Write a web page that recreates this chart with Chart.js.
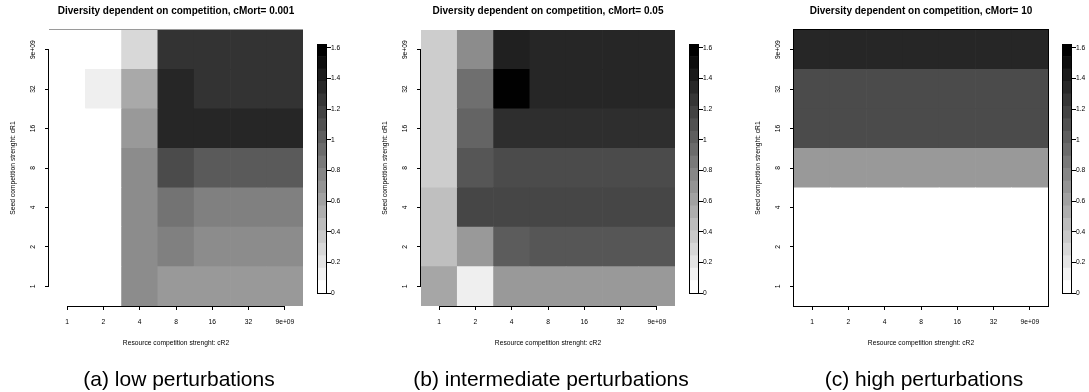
<!DOCTYPE html>
<html>
<head>
<meta charset="utf-8">
<script src="https://cdn.jsdelivr.net/npm/chart.js@4.4.1/dist/chart.umd.min.js"></script>
<style>
html,body{margin:0;padding:0;background:#fff;overflow:hidden;width:1089px;height:392px;}
canvas{position:absolute;top:0;}
</style>
</head>
<body>
<canvas id="mainA" style="left:0px" width="358" height="392"></canvas>
<canvas id="cbA" style="left:300px" width="57" height="392"></canvas>
<canvas id="mainB" style="left:372px" width="358" height="392"></canvas>
<canvas id="cbB" style="left:672px" width="57" height="392"></canvas>
<canvas id="mainC" style="left:745px" width="358" height="392"></canvas>
<canvas id="cbC" style="left:1045px" width="57" height="392"></canvas>
<script>
// ---------- data ----------
const cR2Labels = ['1', '2', '4', '8', '16', '32', '9e+09'];   // x categories
const cR1Labels = ['1', '2', '4', '8', '16', '32', '9e+09'];   // y categories (bottom -> top)
const panelTitles = [
  'Diversity dependent on competition, cMort= 0.001',
  'Diversity dependent on competition, cMort= 0.05',
  'Diversity dependent on competition, cMort= 10'
];
const panelCaptions = ['(a) low perturbations', '(b) intermediate perturbations', '(c) high perturbations'];

// rows: cR1 = 1 ... 9e+09 ; columns: cR2 = 1 ... 9e+09
const diversityLow = [
  [0, 0,    0.73, 0.65, 0.65, 0.65, 0.65],
  [0, 0,    0.73, 0.81, 0.73, 0.73, 0.73],
  [0, 0,    0.73, 0.89, 0.81, 0.81, 0.81],
  [0, 0,    0.73, 1.15, 1.05, 1.05, 1.05],
  [0, 0,    0.65, 1.38, 1.38, 1.38, 1.38],
  [0, 0.10, 0.55, 1.38, 1.30, 1.30, 1.30],
  [0, 0,    0.25, 1.30, 1.30, 1.30, 1.30]
];
const diversityMid = [
  [0.57, 0.10, 0.65, 0.65, 0.65, 0.65, 0.65],
  [0.41, 0.65, 1.04, 1.08, 1.08, 1.08, 1.08],
  [0.41, 1.18, 1.18, 1.18, 1.18, 1.18, 1.18],
  [0.32, 1.08, 1.15, 1.15, 1.15, 1.15, 1.15],
  [0.32, 0.99, 1.33, 1.33, 1.33, 1.33, 1.33],
  [0.32, 0.92, 1.62, 1.38, 1.38, 1.38, 1.38],
  [0.32, 0.73, 1.42, 1.38, 1.38, 1.38, 1.38]
];
const diversityHigh = [
  [0, 0, 0, 0, 0, 0, 0],
  [0, 0, 0, 0, 0, 0, 0],
  [0, 0, 0, 0, 0, 0, 0],
  [0.65, 0.65, 0.65, 0.65, 0.65, 0.65, 0.65],
  [1.15, 1.15, 1.15, 1.15, 1.15, 1.15, 1.15],
  [1.15, 1.15, 1.15, 1.15, 1.15, 1.15, 1.15],
  [1.38, 1.38, 1.38, 1.38, 1.38, 1.38, 1.38]
];
const colorbarTicks = [0, 0.2, 0.4, 0.6, 0.8, 1, 1.2, 1.4, 1.6];
const colorbarTickLabels = ['0', '0.2', '0.4', '0.6', '0.8', '1', '1.2', '1.4', '1.6'];
const zMax = 1.625;
const nBands = 20;

// ---------- helpers ----------
const FONT = "'Liberation Sans', Arial, Helvetica, sans-serif";
Chart.defaults.font.family = FONT;
Chart.defaults.color = '#000';

function grayFor(v) {
  const g = Math.round(255 * (1 - Math.min(v, zMax) / zMax));
  return 'rgb(' + g + ',' + g + ',' + g + ')';
}
function bandGray(i) {
  const g = Math.round(255 * (1 - i / (nBands - 1)));
  return 'rgb(' + g + ',' + g + ',' + g + ')';
}

const rAxes = {
  id: 'rAxes',
  afterDraw(chart, args, opts) {
    const {ctx, chartArea: a, scales: {x, y}} = chart;
    ctx.save();
    ctx.lineWidth = 1;
    if (opts.edgeTop) {
      ctx.strokeStyle = opts.edgeTop;
      ctx.beginPath();
      ctx.moveTo(a.left, Math.round(a.top) - 0.5);
      ctx.lineTo(a.right, Math.round(a.top) - 0.5);
      ctx.stroke();
    }
    ctx.strokeStyle = '#000';
    ctx.beginPath();
    const yb = Math.round(a.bottom) + 0.5;
    ctx.moveTo(x.getPixelForTick(0), yb);
    ctx.lineTo(x.getPixelForTick(x.ticks.length - 1), yb);
    const xl = Math.round(a.left) - 0.5;
    ctx.moveTo(xl, y.getPixelForTick(0));
    ctx.lineTo(xl, y.getPixelForTick(y.ticks.length - 1));
    ctx.stroke();
    if (opts.frame) {
      ctx.strokeRect(xl, Math.round(a.top) - 0.5, Math.round(a.right) + 0.5 - xl, yb - Math.round(a.top) + 0.5);
    }
    ctx.restore();
  }
};

const cbFrame = {
  id: 'cbFrame',
  afterDraw(chart) {
    const {ctx, chartArea: a} = chart;
    ctx.save();
    ctx.strokeStyle = '#000';
    ctx.lineWidth = 1;
    ctx.strokeRect(Math.round(a.left) + 0.5, Math.round(a.top) + 0.5,
                   Math.round(a.right) - Math.round(a.left) - 1, Math.round(a.bottom) - Math.round(a.top));
    ctx.restore();
  }
};

const tickFont = {size: 6.7, lineHeight: 1.2};

function heatChart(id, z, title, caption, extra) {
  return new Chart(document.getElementById(id), {
    type: 'bar',
    data: {
      labels: cR2Labels,
      datasets: cR1Labels.map((r, i) => ({
        label: 'cR1 = ' + r,
        data: cR2Labels.map(() => 1),
        backgroundColor: z[i].map(grayFor),
        borderWidth: 0,
        barPercentage: 1,
        categoryPercentage: 1
      }))
    },
    options: {
      responsive: false,
      animation: false,
      events: [],
      layout: {padding: 0},
      plugins: {
        legend: {display: false},
        tooltip: {enabled: false},
        title: {
          display: true, text: title, fullSize: false, color: '#000',
          font: {size: 10, weight: 'bold', lineHeight: 1.2},
          padding: {top: 5, bottom: 13}
        },
        subtitle: {
          display: true, position: 'bottom', text: caption, color: '#000',
          font: {size: 21, weight: 'normal', lineHeight: 1},
          padding: {top: 15.5, bottom: 1.5}
        },
        rAxes: extra
      },
      scales: {
        x: {
          stacked: true,
          offset: true,
          grid: {offset: false, drawOnChartArea: false, drawTicks: true, tickLength: 4, tickColor: '#000', tickWidth: 1},
          border: {display: false},
          ticks: {font: tickFont, padding: 7.7, color: '#000', maxRotation: 0, minRotation: 0, autoSkip: false},
          title: {display: true, text: 'Resource competition strenght: cR2', color: '#000', font: tickFont, padding: {top: 0, bottom: 7.3}},
          afterFit: s => { s.height = 48; }
        },
        y: {
          stacked: true,
          min: 0,
          max: cR1Labels.length,
          afterBuildTicks: s => { s.ticks = cR1Labels.map((_, i) => ({value: i + 0.5})); },
          grid: {drawOnChartArea: false, drawTicks: true, tickLength: 4, tickColor: '#000', tickWidth: 1},
          border: {display: false},
          ticks: {
            callback: (v, i) => cR1Labels[i],
            minRotation: 90, maxRotation: 90, crossAlign: 'center',
            padding: 2.3, font: tickFont, color: '#000', autoSkip: false
          },
          title: {display: true, text: 'Seed competition strenght: cR1', color: '#000', font: tickFont, padding: {top: 9.3, bottom: 0}},
          afterFit: s => { s.width = 49; }
        },
        // empty right-hand space reserved for the colour key
        keySpace: {
          position: 'right',
          display: true,
          grid: {display: false},
          border: {display: false},
          ticks: {display: false},
          afterFit: s => { s.width = 55; }
        }
      }
    },
    plugins: [rAxes]
  });
}

function colorbarChart(id) {
  const bands = Array.from({length: nBands}, (_, i) => i);
  return new Chart(document.getElementById(id), {
    type: 'bar',
    data: {
      labels: [''],
      datasets: bands.map(i => ({
        data: [zMax / nBands],
        backgroundColor: bandGray(i),
        borderWidth: 0,
        barPercentage: 1,
        categoryPercentage: 1
      }))
    },
    options: {
      responsive: false,
      animation: false,
      events: [],
      layout: {padding: {left: 17, top: 44, bottom: 99, right: 0}},
      plugins: {legend: {display: false}, tooltip: {enabled: false}},
      scales: {
        x: {display: false, stacked: true},
        y: {
          position: 'right',
          stacked: true,
          min: 0,
          max: zMax,
          afterBuildTicks: s => { s.ticks = colorbarTicks.map(v => ({value: v})); },
          grid: {drawOnChartArea: false, drawTicks: true, tickLength: 4, tickColor: '#000', tickWidth: 1},
          border: {display: false},
          ticks: {callback: (v, i) => colorbarTickLabels[i], padding: 0, font: tickFont, color: '#000', autoSkip: false},
          afterFit: s => { s.width = 30; }
        }
      }
    },
    plugins: [cbFrame]
  });
}

heatChart('mainA', diversityLow, panelTitles[0], panelCaptions[0], {frame: false, edgeTop: '#9a9a9a'});
heatChart('mainB', diversityMid, panelTitles[1], panelCaptions[1], {frame: false});
heatChart('mainC', diversityHigh, panelTitles[2], panelCaptions[2], {frame: true});
colorbarChart('cbA');
colorbarChart('cbB');
colorbarChart('cbC');
</script>
</body>
</html>
